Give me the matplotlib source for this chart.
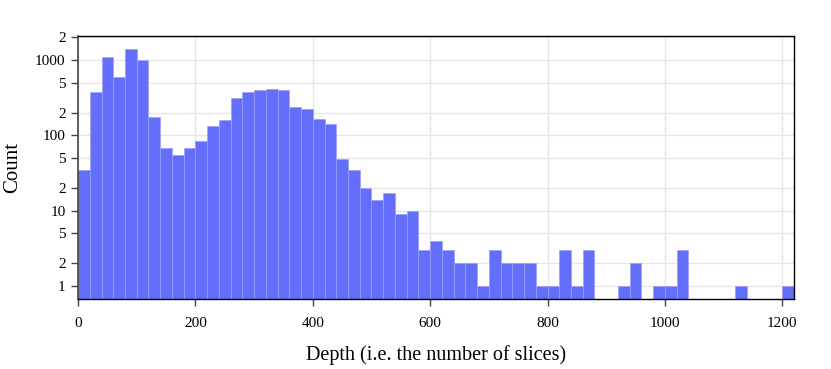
import numpy as np
import matplotlib.pyplot as plt
from matplotlib.ticker import FixedLocator, NullLocator

plt.rcParams['font.family'] = ['Liberation Serif', 'DejaVu Serif']

# histogram of depths, bin width 20
bin_width = 20
bin_starts = list(range(0, 1220, bin_width))
counts = [35, 376, 1096, 600, 1380, 1010, 177, 67, 55, 67,
          85, 132, 158, 316, 376, 400, 416, 404, 240, 221,
          163, 143, 49, 35, 20, 14, 17, 9, 10, 3,
          4, 3, 2, 2, 1, 3, 2, 2, 2, 1,
          1, 3, 1, 3, 0, 0, 1, 2, 0, 1,
          1, 3, 0, 0, 0, 0, 1, 0, 0, 0,
          1]

x_ticks = [0, 200, 400, 600, 800, 1000, 1200]
y_ticks = [1, 2, 5, 10, 20, 50, 100, 200, 500, 1000, 2000]
y_labels = ['1', '2', '5', '10', '2', '5', '100', '2', '5', '1000', '2']

fig = plt.figure(figsize=(8.31, 3.69), dpi=100)
ax = fig.add_axes([0.0939, 0.1897, 0.8616, 0.7127])

heights = [c if c > 0 else np.nan for c in counts]
ax.bar(bin_starts, heights, width=bin_width, align='edge', color='#636efa',
       edgecolor='#9aa0fb', linewidth=0.5, zorder=2)

ax.set_yscale('log')
ax.set_xlim(0, 1220)
ax.set_ylim(0.67, 2080)

ax.xaxis.set_major_locator(FixedLocator(x_ticks))
ax.set_xticklabels([str(t) for t in x_ticks])
ax.yaxis.set_major_locator(FixedLocator(y_ticks))
ax.yaxis.set_minor_locator(NullLocator())
ax.set_yticklabels(y_labels)
for lab, txt in zip(ax.get_yticklabels(), y_labels):
    lab.set_fontsize(11 if len(txt) > 1 else 9)

ax.grid(True, color='#e6e6e6', linewidth=1, zorder=0)
ax.set_axisbelow(True)
ax.tick_params(axis='both', direction='out', length=5, width=1, color='#444444',
               labelsize=11, pad=8)
ax.tick_params(axis='y', pad=4)

for side in ['top', 'right', 'bottom']:
    ax.spines[side].set_color('black')
    ax.spines[side].set_linewidth(1)
ax.spines['left'].set_color('#444444')
ax.spines['left'].set_linewidth(1.2)

ax.set_xlabel('Depth (i.e. the number of slices)', fontsize=14.5, labelpad=11)
ax.set_ylabel('Count', fontsize=15, labelpad=9)

fig.savefig('out.png', dpi=100)
